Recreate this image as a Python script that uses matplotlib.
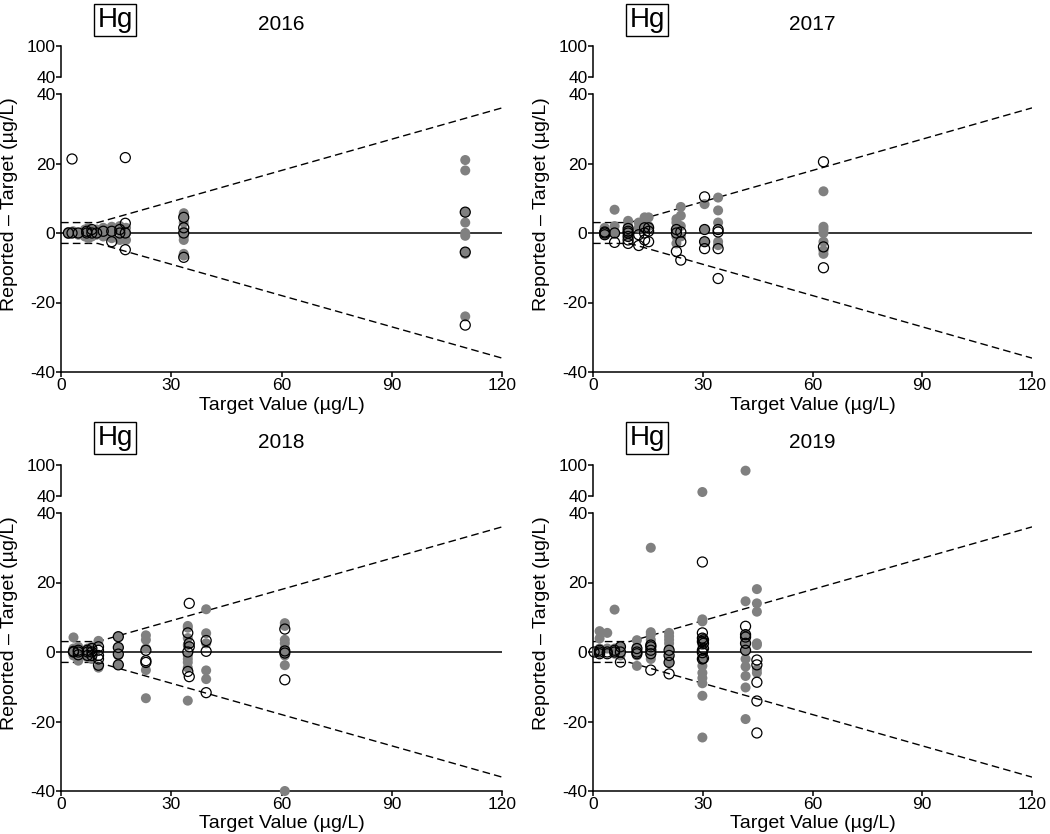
import numpy as np
import matplotlib
matplotlib.use("Agg")
import matplotlib.pyplot as plt

plt.rcParams['font.family'] = ['Liberation Sans', 'DejaVu Sans']
plt.rcParams['axes.unicode_minus'] = False

# acceptance window: +/- 3 ug/L or +/- 30 %, whichever is larger
limit_floor = 3
limit_frac = 0.3
limit_x = [0, 10, 120]

years = [2016, 2017, 2018, 2019]

# 2016  (target value -> reported minus target)
g16_t = [2, 3.3, 4.7, 6.5, 7.5, 8.4, 9.7, 11.5, 13.8, 16, 17.7, 33.4, 110]
g16_v = [[0, 0.3, -0.3], [0, 0.5], [0, -0.5], [0.5, -1, 1], [0, -1.5, 1.5],
         [0.5, -1], [1, -0.5], [1.5, 0, -1], [1.8, -1.5, 0.5], [2, -2, 0.5],
         [1.5, -2, 0], [5.7, 5, 3, 0.5, -1, -2, -6, -6.5],
         [21, 18, 6, 3, 0, -0.8, -5.5, -6, -24]]
o16_t = [2, 3, 4.7, 7, 8.4, 9.7, 11.5, 13.8, 16, 17.5, 33.4, 110]
o16_v = [[0], [21.3, 0], [0], [0, 0.5], [0, 1], [0], [0.5], [-2.5, 0.5],
         [0, 1], [21.7, 2.8, 0, -4.8], [4.5, 1.5, 0, -7], [6, -5.5, -26.5]]

# 2017
g17_t = [3.2, 5.9, 9.6, 12.5, 14.1, 15.2, 22.8, 24, 30.5, 34.2, 63]
g17_v = [[1.5, 0.5, -0.5], [6.7, 2, 0], [3.5, 2, 1, -1], [3, 1.5], [4.5, 3, 1],
         [4.5, 2], [4, 3, 1, -1, -3], [7.5, 5, 2, -1], [8.3, 1, -2.5],
         [10.2, 6.5, 3, -2.5, -3.5], [12, 1.8, 1, 0, -2.5, -5, -6]]
o17_t = [3.2, 5.9, 9.6, 12.5, 14.1, 15.2, 22.8, 24, 30.5, 34.2, 63]
o17_v = [[0, 0.3, -0.5], [0, -2.7], [1.3, 0.5, 0, -1, -2, -3], [-0.5, -3.6],
         [1.5, 0, -2], [1.5, 0.5, -2.5], [1, 0, -5.3], [0.3, -2.5, -7.8],
         [10.4, 1, -2.5, -4.5], [1, 0.3, -4.5, -13.1], [20.5, -4, -10]]

# 2018
g18_t = [3.4, 4.7, 7.2, 8.4, 10.2, 15.6, 23.1, 34.5, 39.5, 60.9]
g18_v = [[4.2, 1, 0, -1], [1.5, -1.5, -2.5], [1, -1.5], [1.5, -2], [3.2, -4.5],
         [4.4, 1.3, -1, -3.7], [4.8, 3.5, 1, -5.2, -13.3],
         [7.5, 7, 4, 2, -1, -2, -3, -4.5, -14], [12.3, 5.4, 2.5, -5.3, -7.8],
         [8.3, 7.5, 3.5, 2.5, 1, -1, -3.8, -40]]
o18_t = [3.4, 4.7, 7.2, 8.4, 10.2, 15.6, 23.1, 34.5, 34.9, 39.5, 60.9]
o18_v = [[0, 0.2], [0.5, 0, -0.8], [0, 0.5, -1], [1, 0, -1],
         [1.5, 0.5, -1, -2, -3.8], [4.4, 1.3, -0.6, -3.7], [0.5, -2.5, -3],
         [5.5, 0, -5.6], [14, 2.5, 1.5, -7.1], [3.3, 0.2, -11.7],
         [6.6, 0.3, -0.3, -8]]

# 2019
g19_t = [1.2, 1.8, 3.9, 5.9, 7.5, 12, 15.8, 20.8, 29.9, 41.7, 44.8]
g19_v = [[0], [6, 3.9, 1], [5.5, 1], [12.2, 1, -0.5], [1.5, -1],
         [3.4, 1.5, -1, -4], [30, 5.7, 5, 3.5, 2, -1, -2],
         [5.5, 4.5, 3.5, 2.5, 1, -1.5, -3],
         [47.7, 9.4, 8.8, 4, 2, -2, -4, -6, -7.5, -9, -12.6, -24.6],
         [89, 14.6, 5, 4, 2.5, 0.5, -2, -4.2, -6.9, -10.2, -19.3],
         [18.1, 14, 11.6, 2.5, 2, -5, -6]]
o19_t = [0.3, 1.8, 3.9, 5.9, 7.5, 12, 15.8, 20.8, 29.9, 30.2, 41.7, 44.8]
o19_v = [[0], [0, 0.5, -0.5], [0, -0.5], [0.5, 0], [1.5, 0, -2.9],
         [1, 0, -0.5], [2, 1.5, 0.5, -0.5, -5.2], [0.5, -1, -3, -6.3],
         [25.9, 5.5, 4, 3, 0.5, -0.2, -2], [3.5, 2.5, 1, -1.8],
         [7.4, 5, 4.3, 2.5, 0.5], [-2.3, -3.7, -8.7, -14.1, -23.3]]

gray_sets = [(g16_t, g16_v), (g17_t, g17_v), (g18_t, g18_v), (g19_t, g19_v)]
open_sets = [(o16_t, o16_v), (o17_t, o17_v), (o18_t, o18_v), (o19_t, o19_v)]

W, H = 1050, 834
fig = plt.figure(figsize=(W / 100, H / 100), dpi=100)

# pixel positions: (left, right) per column; rows as (upper top, upper bottom, main top, main bottom)
cols = [(61, 502), (593, 1032)]
rows = [(46, 77, 94, 372), (465, 496, 513, 791)]
title_y = [24, 442]
hg_y = [20, 438]
ylab_y = [204, 623]
xlab_y = [405, 824]

GRAY = '#808080'
DASH = (0, (5.5, 3))


def flatten(t, v):
    xs, ys = [], []
    for x, vals in zip(t, v):
        for y in vals:
            xs.append(x)
            ys.append(y)
    return np.array(xs), np.array(ys)


def fx(px):
    return px / W


def fy(py):
    return 1 - py / H


def dots(axis, x, y, filled):
    if len(x) == 0:
        return
    if filled:
        axis.scatter(x, y, s=52, color=GRAY, edgecolors='none', zorder=3, clip_on=False)
    else:
        axis.scatter(x, y, s=52, facecolors='none', edgecolors='black', linewidths=0.9,
                     zorder=4, clip_on=False)


for i, year in enumerate(years):
    left, right = cols[i % 2]
    up_top, up_bot, top, bot = rows[i // 2]

    ax = fig.add_axes([fx(left), fy(bot), (right - left) / W, (bot - top) / H])
    axu = fig.add_axes([fx(left), fy(up_bot), (right - left) / W, (up_bot - up_top) / H])

    gx, gy = flatten(*gray_sets[i])
    ox, oy = flatten(*open_sets[i])

    # limit lines and zero line
    lx = np.array(limit_x)
    ly = np.maximum(limit_floor, limit_frac * lx)
    ax.plot(lx, ly, ls=DASH, color='black', lw=1.0)
    ax.plot(lx, -ly, ls=DASH, color='black', lw=1.0)
    ax.axhline(0, color='black', lw=1.1, zorder=1)

    dots(ax, gx[gy <= 40], gy[gy <= 40], True)
    dots(ax, ox[oy <= 40], oy[oy <= 40], False)
    dots(axu, gx[gy > 40], gy[gy > 40], True)
    dots(axu, ox[oy > 40], oy[oy > 40], False)

    ax.set_xlim(0, 120)
    ax.set_ylim(-40, 40)
    ax.set_xticks([0, 30, 60, 90, 120])
    ax.set_yticks([-40, -20, 0, 20, 40])
    for s in ['top', 'right']:
        ax.spines[s].set_visible(False)
    for s in ['left', 'bottom']:
        ax.spines[s].set_linewidth(1.1)
    ax.tick_params(direction='out', length=3.5, width=1.1, labelsize=12.5, pad=0.5)

    axu.set_xlim(0, 120)
    axu.set_ylim(40, 100)
    axu.set_yticks([40, 100])
    axu.set_xticks([])
    for s in ['top', 'right', 'bottom']:
        axu.spines[s].set_visible(False)
    axu.spines['left'].set_linewidth(1.1)
    axu.tick_params(direction='out', length=3.5, width=1.1, labelsize=12.5, pad=0.5)
    axu.patch.set_alpha(0)

    cx = (left + right) / 2
    fig.text(fx(cx), fy(title_y[i // 2]), str(year), ha='center', va='center', fontsize=15)
    fig.text(fx(left + 54), fy(hg_y[i // 2]), 'Hg', ha='center', va='center', fontsize=20,
             bbox=dict(boxstyle='square,pad=0.12', facecolor='white', edgecolor='black', linewidth=1.0))
    fig.text(fx(left - 51), fy(ylab_y[i // 2]), 'Reported \u2013 Target (\u00b5g/L)', rotation=90,
             ha='center', va='center', fontsize=14)
    fig.text(fx(cx), fy(xlab_y[i // 2]), 'Target Value (\u00b5g/L)', ha='center', va='center', fontsize=14)

fig.savefig('out.png', dpi=100)
